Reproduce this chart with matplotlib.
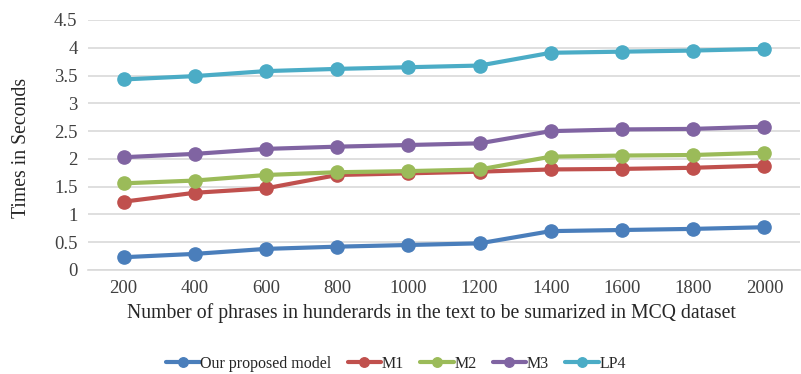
import matplotlib
matplotlib.use("Agg")
import matplotlib.pyplot as plt

plt.rcParams['font.family'] = ['Liberation Serif', 'DejaVu Serif']

categories = ["200", "400", "600", "800", "1000", "1200", "1400", "1600", "1800", "2000"]
series_names = ["Our proposed model", "M1", "M2", "M3", "LP4"]
proposed = [0.23, 0.29, 0.38, 0.42, 0.45, 0.48, 0.70, 0.72, 0.74, 0.77]
m1 = [1.23, 1.39, 1.47, 1.71, 1.74, 1.77, 1.81, 1.82, 1.84, 1.88]
m2 = [1.56, 1.61, 1.71, 1.76, 1.78, 1.81, 2.04, 2.06, 2.07, 2.11]
m3 = [2.03, 2.09, 2.18, 2.22, 2.25, 2.28, 2.50, 2.53, 2.54, 2.58]
lp4 = [3.43, 3.49, 3.58, 3.62, 3.65, 3.68, 3.91, 3.93, 3.95, 3.98]
y_ticks = [0, 0.5, 1, 1.5, 2, 2.5, 3, 3.5, 4, 4.5]
y_tick_labels = ["0", "0.5", "1", "1.5", "2", "2.5", "3", "3.5", "4", "4.5"]
colors = ["#4A7EBB", "#C0504D", "#9BBB59", "#8064A2", "#4BACC6"]

W, H = 801, 374
fig = plt.figure(figsize=(W / 100, H / 100), dpi=100)
ax = fig.add_axes([88 / W, 1 - 270 / H, 712 / W, 250 / H])

x = list(range(len(categories)))
for name, vals, c in zip(series_names, [proposed, m1, m2, m3, lp4], colors):
    ax.plot(x, vals, color=c, lw=3, marker='o', markersize=9.5, label=name,
            solid_capstyle='round', zorder=3)

ax.set_xlim(-0.5, len(categories) - 0.5)
ax.set_ylim(0, 4.5)
ax.set_yticks(y_ticks)
ax.set_yticklabels(y_tick_labels)
ax.set_xticks(x)
ax.set_xticklabels(categories)
ax.grid(axis='y', color='#D9D9D9', lw=1.2, zorder=0)
for s in ['top', 'right', 'left']:
    ax.spines[s].set_visible(False)
ax.spines['bottom'].set_color('#D9D9D9')
ax.spines['bottom'].set_linewidth(1.2)
ax.tick_params(axis='both', length=0, labelsize=13.5, colors='#404040')
ax.tick_params(axis='y', pad=7.5)
ax.tick_params(axis='x', pad=7)

fig.text(22 / W, 1 - 148 / H, "Times in Seconds", rotation=90, ha='center', va='center',
         fontsize=14.2, color='#262626')
fig.text(431 / W, 1 - 313 / H,
         "Number of phrases in hunderards in the text to be sumarized in MCQ dataset",
         ha='center', va='center', fontsize=14.2, color='#262626')

leg = fig.legend(loc='center', bbox_to_anchor=(396 / W, 1 - 364 / H), ncol=5,
                 frameon=False, fontsize=11.5, handlelength=2.1, handletextpad=0.05,
                 columnspacing=1.0, markerscale=0.72, borderpad=0)
for t in leg.get_texts():
    t.set_color('#262626')

fig.savefig("out.png", dpi=100)
